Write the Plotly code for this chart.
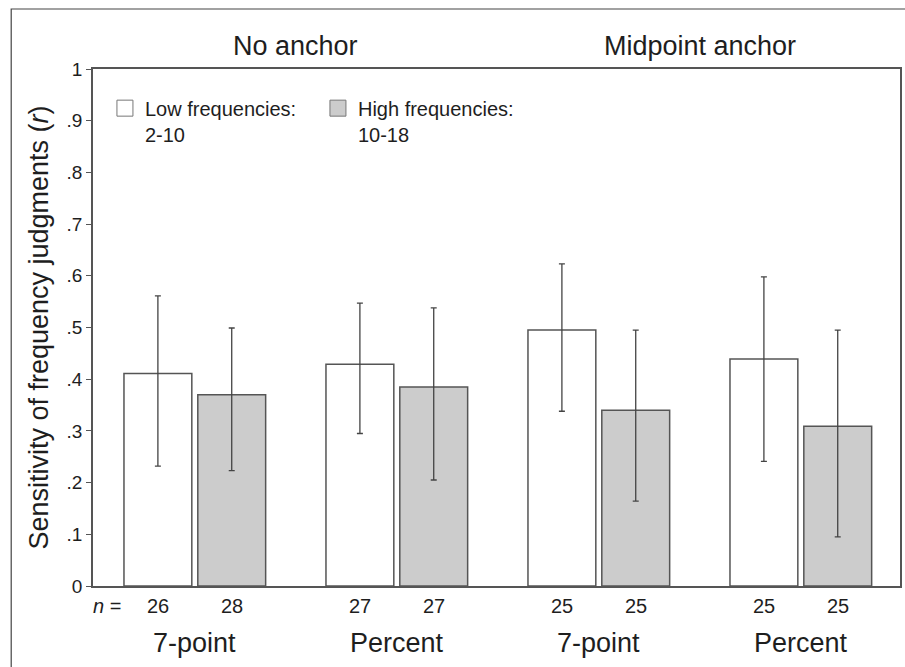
import plotly.graph_objects as go

# Response scales, grouped by anchor condition
scales = ["7-point", "Percent", "7-point", "Percent"]
conditions = ["No anchor", "Midpoint anchor"]

# Low frequencies (2-10): correlation and 95% CI bounds
low_r = [0.411, 0.429, 0.495, 0.439]
low_hi = [0.561, 0.547, 0.623, 0.598]
low_lo = [0.232, 0.295, 0.338, 0.241]
low_n = [26, 27, 25, 25]

# High frequencies (10-18)
high_r = [0.370, 0.385, 0.340, 0.309]
high_hi = [0.499, 0.538, 0.495, 0.495]
high_lo = [0.223, 0.205, 0.164, 0.095]
high_n = [28, 27, 25, 25]

y_ticks = [0, 0.1, 0.2, 0.3, 0.4, 0.5, 0.6, 0.7, 0.8, 0.9, 1]
y_ticktext = ["0", ".1", ".2", ".3", ".4", ".5", ".6", ".7", ".8", ".9", "1"]

FONT = "Liberation Sans, Arial, sans-serif"
INK = "#555555"
TXT = "#1e1e1e"
LOW_FILL = "white"
HIGH_FILL = "#cccccc"
BARGAP = 0.269
BARGROUPGAP = 0.081

xs = list(range(len(scales)))


def err(vals, hi, lo):
    return dict(
        type="data",
        symmetric=False,
        array=[h - v for v, h in zip(vals, hi)],
        arrayminus=[v - l for v, l in zip(vals, lo)],
        color="#444444",
        thickness=1.3,
        width=3,
    )


fig = go.Figure()
fig.add_trace(go.Bar(
    x=xs, y=low_r, name="low", showlegend=False, legendgroup="low",
    marker=dict(color=LOW_FILL, line=dict(color=INK, width=1.5)),
    error_y=err(low_r, low_hi, low_lo),
))
fig.add_trace(go.Bar(
    x=xs, y=high_r, name="high", showlegend=False, legendgroup="high",
    marker=dict(color=HIGH_FILL, line=dict(color=INK, width=1.5)),
    error_y=err(high_r, high_hi, high_lo),
))

# Legend keys: large square swatches for each frequency range
for label, fill, grp in (("Low frequencies:<br>2-10", LOW_FILL, "low"),
                         ("High frequencies:<br>10-18", HIGH_FILL, "high")):
    fig.add_trace(go.Scatter(
        x=[None], y=[None], mode="markers", name=label, legendgroup=grp,
        marker=dict(symbol="square", size=16, color=fill,
                    line=dict(color="#777777", width=1)),
    ))

annotations = []
# n per bar, placed under each bar of the pair
slot = (1 - BARGAP) / 2
for i in xs:
    for n, off in ((low_n[i], -slot / 2), (high_n[i], slot / 2)):
        annotations.append(dict(
            x=i + off, y=0, xref="x", yref="paper", yanchor="top",
            yshift=-7, text=str(n), showarrow=False,
            font=dict(size=20, color=TXT, family=FONT),
        ))
    annotations.append(dict(
        x=i, y=0, xref="x", yref="paper", yanchor="top", yshift=-40,
        text=scales[i], showarrow=False,
        font=dict(size=27, color=TXT, family=FONT),
    ))
annotations.append(dict(
    x=0, y=0, xref="paper", yref="paper", xanchor="center", yanchor="top",
    xshift=14, yshift=-7, text="<i>n</i> =", showarrow=False,
    font=dict(size=20, color=TXT, family=FONT),
))
for k, cond in enumerate(conditions):
    annotations.append(dict(
        x=2 * k + 0.5, y=1, xref="x", yref="paper", yanchor="bottom",
        yshift=6, text=cond, showarrow=False,
        font=dict(size=27, color=TXT, family=FONT),
    ))

fig.update_layout(
    width=905, height=667,
    margin=dict(l=93, r=3, t=69, b=81),
    paper_bgcolor="white", plot_bgcolor="white",
    barmode="group", bargap=BARGAP, bargroupgap=BARGROUPGAP,
    font=dict(family=FONT, color=TXT),
    annotations=annotations,
    showlegend=True,
    legend=dict(
        orientation="h", x=0.0148, y=0.962, xanchor="left", yanchor="top",
        font=dict(size=20, family=FONT, color=TXT),
        bgcolor="rgba(0,0,0,0)", entrywidth=168, valign="top",
        traceorder="normal", itemsizing="trace",
    ),
    shapes=[dict(
        type="rect", xref="paper", yref="paper",
        x0=-82 / 809, x1=1.2, y0=-0.3, y1=1 + 60 / 517,
        line=dict(color="#444444", width=1.2), fillcolor="rgba(0,0,0,0)",
        layer="below",
    )],
)
fig.update_xaxes(
    range=[-0.504, 3.491], showticklabels=False, ticks="",
    showgrid=False, zeroline=False,
    showline=True, linecolor=INK, linewidth=1.5, mirror=True,
)
fig.update_yaxes(
    range=[0, 1], tickvals=y_ticks, ticktext=y_ticktext,
    ticks="outside", ticklen=5, tickcolor=INK, tickwidth=1.2,
    tickfont=dict(size=19, family=FONT, color=TXT),
    showgrid=False, zeroline=False,
    showline=True, linecolor=INK, linewidth=1.5, mirror=True,
    title=dict(text="Sensitivity of frequency judgments (<i>r</i>)",
               font=dict(size=27, family=FONT, color=TXT), standoff=10),
)

fig.write_html("out.html")
